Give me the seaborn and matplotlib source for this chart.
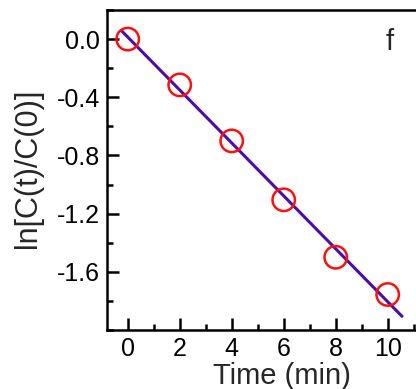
import numpy as np
import pandas as pd
import matplotlib
matplotlib.use("Agg")
import matplotlib.pyplot as plt
import seaborn as sns
from matplotlib.ticker import MultipleLocator

# Kinetic data: ln[C(t)/C(0)] versus irradiation time
time_min = [0, 2, 4, 6, 8, 10]
ln_ratio = [0.0, -0.315, -0.70, -1.105, -1.50, -1.756]
x_ticks = [0, 2, 4, 6, 8, 10]
y_ticks = [0.0, -0.4, -0.8, -1.2, -1.6]
panel_label = "f"

sns.set_theme(style="white")
plt.rcParams["font.family"] = ["Liberation Sans", "DejaVu Sans"]

df = pd.DataFrame({"t": time_min, "y": ln_ratio})

# Linear least-squares fit, drawn slightly beyond the data range
slope, intercept = np.polyfit(df["t"], df["y"], 1)
fit_t = np.array([-0.25, 10.55])
fit_df = pd.DataFrame({"t": fit_t, "y": slope * fit_t + intercept})

fig = plt.figure(figsize=(4.16, 3.89), dpi=100)
ax = fig.add_axes([0.257, 0.1517, 0.75, 0.8226])

sns.lineplot(data=fit_df, x="t", y="y", ax=ax, color="#4B0CA8", linewidth=2.2, zorder=2)
sns.scatterplot(data=df, x="t", y="y", ax=ax, s=260, marker="o",
                facecolors="none", edgecolor="#FF1010", linewidth=1.8, zorder=3)

ax.set_xlim(-0.8, 11.2)
ax.set_ylim(-2.0, 0.2)
ax.set_xticks(x_ticks)
ax.set_yticks(y_ticks)
ax.set_yticklabels([f"{v:.1f}" for v in y_ticks])
ax.xaxis.set_minor_locator(MultipleLocator(1))
ax.yaxis.set_minor_locator(MultipleLocator(0.2))

ax.tick_params(which="both", direction="in", bottom=True, left=True,
               top=False, right=False, width=1.8, colors="black",
               labelsize=18, pad=5)
ax.tick_params(which="major", length=8.5)
ax.tick_params(which="minor", length=4.5)

for side in ["left", "bottom", "top", "right"]:
    ax.spines[side].set_color("black")
    ax.spines[side].set_linewidth(1.8)

ax.set_xlabel("Time (min)", fontsize=21, labelpad=0)
ax.xaxis.set_label_coords(0.56, -0.10)
ax.set_ylabel("ln[C(t)/C(0)]", fontsize=22, labelpad=6)
ax.yaxis.set_label_coords(-0.205, 0.505)

ax.text(0.905, 0.90, panel_label, transform=ax.transAxes, fontsize=21,
        ha="center", va="center")

fig.savefig("out.png", dpi=100)
